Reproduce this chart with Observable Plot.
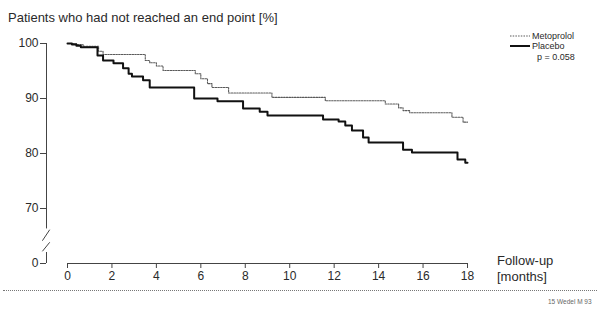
<!DOCTYPE html>
<html>
<head>
<meta charset="utf-8">
<script src="https://cdn.jsdelivr.net/npm/d3@7"></script>
<script src="https://cdn.jsdelivr.net/npm/@observablehq/plot@0.6"></script>
<style>
  html, body { margin: 0; padding: 0; background: #fff; }
  #wrap { position: relative; width: 600px; height: 310px; font-family: "Liberation Sans", Arial, sans-serif; color: #2a2a2a; }
  #wrap svg { position: absolute; left: 0; top: 0; }
  .abs { position: absolute; white-space: nowrap; }
</style>
</head>
<body>
<div id="wrap"></div>
<script>
// ---- data ----
const placeboMonths = [0, 0.2, 0.4, 0.6, 1.35, 1.6, 2.07, 2.5, 2.75, 2.9, 3.4, 3.7, 5.7, 6.75, 7.9, 8.65, 9.0, 11.5, 12.2, 12.5, 12.8, 13.3, 13.55, 15.1, 15.5, 17.55, 17.9, 18];
const placeboPct    = [100, 99.8, 99.6, 99.3, 97.8, 96.9, 96.4, 95.5, 94.5, 94.0, 93.3, 92.0, 90.0, 89.5, 88.2, 87.6, 86.9, 86.2, 85.8, 85.1, 84.2, 82.9, 82.0, 80.7, 80.2, 78.9, 78.3, 78.3];
const metoMonths = [0, 0.4, 0.7, 1.4, 1.6, 3.5, 3.7, 4.0, 4.3, 5.75, 6.0, 6.3, 6.5, 7.25, 9.2, 11.6, 14.3, 14.9, 15.1, 15.4, 17.3, 17.8, 18];
const metoPct    = [100, 99.8, 99.5, 98.6, 98.0, 96.9, 96.5, 95.9, 95.1, 94.5, 93.6, 92.7, 92.0, 91.0, 90.2, 89.6, 89.0, 88.3, 87.8, 87.4, 86.6, 85.7, 85.7];
const xTicks = [0, 2, 4, 6, 8, 10, 12, 14, 16, 18];
const yTicks = [0, 70, 80, 90, 100];
const seriesNames = ["Metoprolol", "Placebo"];
const pValue = "p = 0.058";
const title = "Patients who had not reached an end point [%]";
const xLabel = ["Follow-up", "[months]"];
const footnote = "15 Wedel M 93";
// y-axis segments (in % units) around the axis break
const yAxisSegments = [[100, 44], [14, 0]];
const yBreakMarks = [[29, 43], [15.5, 27]];

const placebo = placeboMonths.map((m, i) => ({month: m, pct: placeboPct[i]}));
const meto = metoMonths.map((m, i) => ({month: m, pct: metoPct[i]}));

// broken y axis: 0–70 compressed below the break
const breakAt = 70, squeeze = 7;
const yPos = v => v >= breakAt ? v : breakAt - (breakAt - v) / squeeze;
const yInv = t => t >= breakAt ? t : breakAt - (breakAt - t) * squeeze;

const font = "Liberation Sans, Arial, sans-serif";

const chart = Plot.plot({
  width: 600,
  height: 310,
  marginLeft: 46,
  marginRight: 133,
  marginTop: 43,
  marginBottom: 47,
  style: {fontFamily: font, fontSize: "12px", color: "#2a2a2a", background: "transparent"},
  x: {domain: [0, 18], range: [67, 467]},
  y: {domain: [yPos(0), 100], range: [263, 43]},
  marks: [
    Plot.axisY({ticks: yTicks.map(yPos), tickFormat: t => String(Math.round(yInv(t))), tickSize: 6, tickPadding: 2, label: null, fontSize: 12, stroke: "#444"}),
    Plot.axisX({ticks: xTicks, tickSize: 5, tickPadding: 3, label: null, fontSize: 12, stroke: "#444"}),
    Plot.ruleX(yAxisSegments, {x: () => 0, y1: d => yPos(d[0]), y2: d => yPos(d[1]), dx: -21, stroke: "#444", strokeWidth: 1}),
    Plot.link(yBreakMarks, {x1: -1.13, x2: -0.8, y1: d => yPos(d[0]), y2: d => yPos(d[1]), stroke: "#444", strokeWidth: 1}),
    Plot.ruleY([yPos(0)], {x1: 0, x2: 18, stroke: "#444", strokeWidth: 1}),
    Plot.line(meto, {x: "month", y: d => yPos(d.pct), curve: "step-after", stroke: "#5a5a5a", strokeWidth: 1.1, strokeDasharray: "1.5,1.2"}),
    Plot.line(placebo, {x: "month", y: d => yPos(d.pct), curve: "step-after", stroke: "#111", strokeWidth: 2})
  ]
});

const wrap = document.getElementById("wrap");
wrap.appendChild(chart);

function addText(txt, left, top, size, extra = "") {
  const d = document.createElement("div");
  d.className = "abs";
  d.textContent = txt;
  d.style.cssText += `left:${left}px;top:${top}px;font-size:${size}px;${extra}`;
  wrap.appendChild(d);
  return d;
}
addText(title, 8, 10, 13);
addText(xLabel[0], 497, 253, 13);
addText(xLabel[1], 497, 269, 13);
addText(footnote, 548, 298, 6.5, "color:#666;");

// legend
const legendItems = [
  {name: seriesNames[0], stroke: "#5a5a5a", width: 1.1, dash: "1.5,1.2"},
  {name: seriesNames[1], stroke: "#111", width: 2, dash: null}
];
legendItems.forEach((it, i) => {
  const row = document.createElement("div");
  row.className = "abs";
  row.style.cssText += `left:510px;top:${31 + i * 10}px;font-size:9px;line-height:10px;display:flex;align-items:center;`;
  row.innerHTML = `<svg width="20" height="6" style="position:static;margin-right:2px"><line x1="0" x2="20" y1="3" y2="3" stroke="${it.stroke}" stroke-width="${it.width}" ${it.dash ? `stroke-dasharray="${it.dash}"` : ""}/></svg><span>${it.name}</span>`;
  wrap.appendChild(row);
});
addText(pValue, 537, 52, 9);

// bottom dotted separator
const sep = document.createElement("div");
sep.className = "abs";
sep.style.cssText += "left:3px;top:290px;width:594px;border-top:1px dotted #777;";
wrap.appendChild(sep);
</script>
</body>
</html>
